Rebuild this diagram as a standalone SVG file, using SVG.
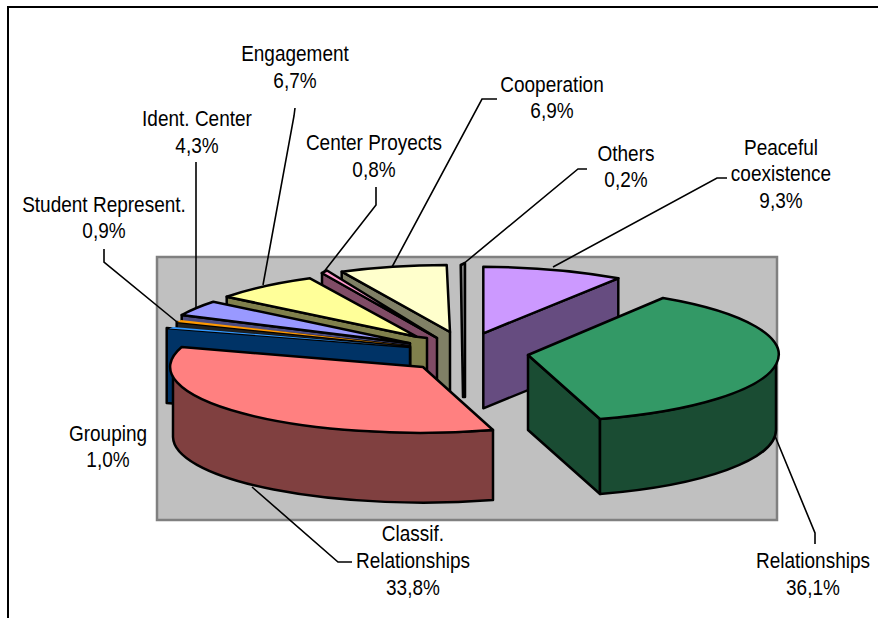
<svg xmlns="http://www.w3.org/2000/svg" width="878" height="618" viewBox="0 0 878 618">
<style>
.s{stroke:#000;stroke-width:2.5;stroke-linejoin:round}
.ld{fill:none;stroke:#000;stroke-width:1.6}
.t{font-family:"Liberation Sans",Arial,sans-serif;font-size:19px;fill:#000;text-anchor:middle}
</style>
<rect width="878" height="618" fill="#fff"/>
<path d="M8,618 V7 H878" fill="none" stroke="#000" stroke-width="2"/>
<rect x="157" y="257" width="620" height="263" fill="#C0C0C0" stroke="#808080" stroke-width="2.5"/>

<g id="cooperation">
<polygon class="s" points="341.7,271.7 450,332 450,407 341.7,346.7" fill="#808066"/>
<path class="s" d="M450,332 L341.7,271.7 A248 67 0 0 1 446.7,265 Z" fill="#FFFFCC"/>
</g>
<g id="center-proyects">
<polygon class="s" points="322,273 437,338 437,413 322,348" fill="#804C66"/>
<path class="s" d="M437,338 L321.7,273 A248 67 0 0 1 327,270.5 Z" fill="#FF99CC"/>
</g>
<g id="engagement">
<polygon class="s" points="226.7,296.7 416.7,336.7 427,338 427,413 226.7,372" fill="#80804C"/>
<path class="s" d="M416.7,336.7 L226.7,296.7 A248 67 0 0 1 310,278.3 Z" fill="#FFFF99"/>
</g>
<g id="ident-center">
<polygon class="s" points="181.7,315 410,343.3 410,418 181.7,390" fill="#4C4C80"/>
<path class="s" d="M410,343.3 L181.7,315 A248 67 0 0 1 213.3,301.7 Z" fill="#9999FF"/>
</g>
<g id="student-represent">
<polygon class="s" points="176.7,322 410,346 410,421 176.7,397" fill="#202020"/>
<path d="M410,346 L177,322 L181,320 Z" fill="#FF9900"/>
</g>
<g id="grouping">
<polygon class="s" points="166.7,328 410,347 410,422 166.7,403" fill="#003366"/>
<path d="M400,346 L169,328.5 L173,327 Z" fill="#3399FF"/>
</g>
<g id="classif-relationships">
<path class="s" d="M173,367 A250 66 0 0 0 493,430 L493,500 A250 66 0 0 1 173,437 Z" fill="#804040"/>
<path class="s" d="M423,367 L181.7,347 A250 66 0 0 0 493,430 Z" fill="#FF8080"/>
</g>
<g id="others">
<polygon class="s" points="460.7,265 465,263 465,397 463,397" fill="#808080" stroke-width="2"/>
</g>
<g id="peaceful-coexistence">
<polygon class="s" points="483.3,333.3 618.3,278.3 618.3,353.3 483.3,408.3" fill="#664C80"/>
<path class="s" d="M483.3,333.3 L483.3,266.7 A248 67 0 0 1 618.3,278.3 Z" fill="#CC99FF"/>
</g>
<g id="relationships">
<polygon class="s" points="528,355 600,419 600,494 528,430" fill="#1A4C33"/>
<path class="s" d="M600,419 A248 67 0 0 0 776,355 L776,430 A248 67 0 0 1 600,494 Z" fill="#1A4C33"/>
<path class="s" d="M528,355 L663,298 A248 67 0 0 1 600,419 Z" fill="#339966"/>
</g>

<g id="connectors">
<polyline class="ld" points="104,249 104,262 177,322"/>
<polyline class="ld" points="196,162 196,309"/>
<polyline class="ld" points="295,108 294,116 263,285"/>
<polyline class="ld" points="376,187 376,205 323,273"/>
<polyline class="ld" points="497,99 482,99 392,267"/>
<polyline class="ld" points="587,169 578,169 462,265"/>
<polyline class="ld" points="727,178 717,178 553,267"/>
<polyline class="ld" points="775,436 815,533 815,544"/>
<polyline class="ld" points="252,487 338,562 352,562"/>
</g>

<g id="labels" transform="scale(1,1.15)">
<text class="t" x="295" y="53.04">Engagement</text>
<text class="t" x="295" y="76.52">6,7%</text>
<text class="t" x="197" y="109.57">Ident. Center</text>
<text class="t" x="197" y="133.04">4,3%</text>
<text class="t" x="374" y="130.43">Center Proyects</text>
<text class="t" x="374" y="153.91">0,8%</text>
<text class="t" x="552" y="80">Cooperation</text>
<text class="t" x="552" y="102.61">6,9%</text>
<text class="t" x="626" y="140">Others</text>
<text class="t" x="626" y="162.61">0,2%</text>
<text class="t" x="781" y="134.78">Peaceful</text>
<text class="t" x="781" y="157.39">coexistence</text>
<text class="t" x="781" y="180.87">9,3%</text>
<text class="t" x="104" y="184.35">Student Represent.</text>
<text class="t" x="104" y="206.96">0,9%</text>
<text class="t" x="108" y="383.48">Grouping</text>
<text class="t" x="108" y="406.09">1,0%</text>
<text class="t" x="413" y="470.43">Classif.</text>
<text class="t" x="413" y="493.91">Relationships</text>
<text class="t" x="413" y="517.39">33,8%</text>
<text class="t" x="813" y="493.91">Relationships</text>
<text class="t" x="813" y="517.39">36,1%</text>
</g>
</svg>
